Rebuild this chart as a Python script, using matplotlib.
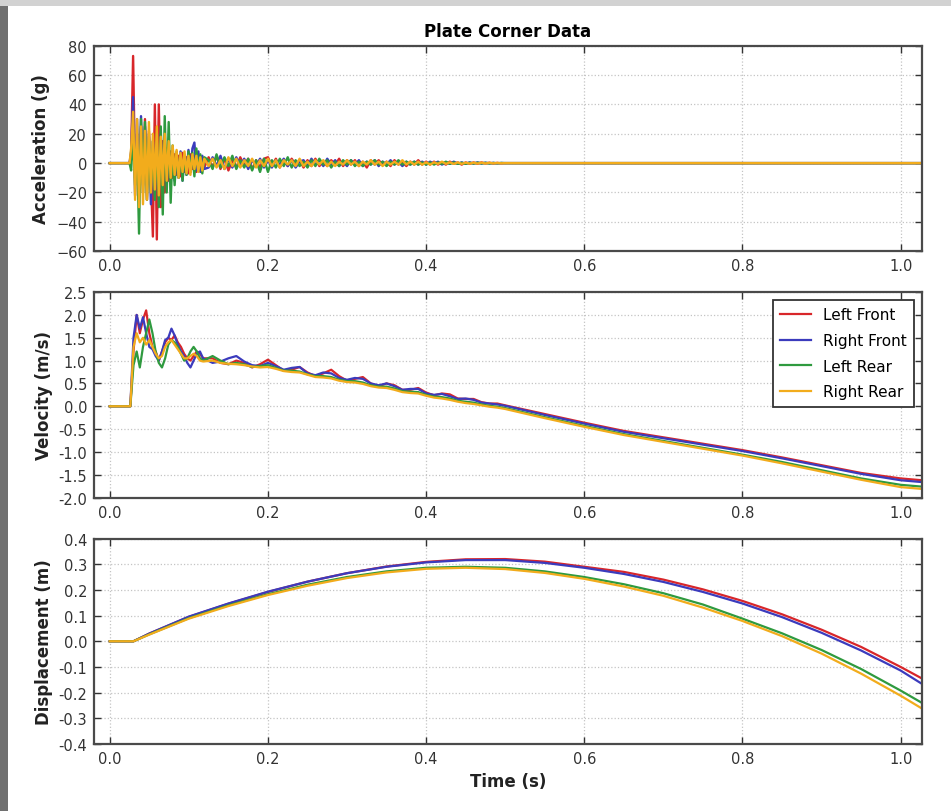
import numpy as np
import matplotlib
matplotlib.use('Agg')
import matplotlib.pyplot as plt
from matplotlib.patches import Rectangle

plt.rcParams['font.family'] = ['DejaVu Sans']

# Series names and colours
labels = ['Left Front', 'Right Front', 'Left Rear', 'Right Rear']
colors = ['#d8262a', '#3b3bbd', '#2f9a3f', '#f2ac1c']

# ---- Acceleration (g) ----
# time grid: flat start, fine part (step 0.0025), coarse part (step 0.005), flat tail
acc_t = np.concatenate([[0.0, 0.025],
                        np.round(0.027 + 0.0025 * np.arange(38), 4),
                        np.round(0.125 + 0.005 * np.arange(76), 4),
                        [0.53, 1.027]])

acc_lf_a = [5, 73, -10, 20, -20, 25, -15, 30, -25, 22, -10, -50, 40, -52, 40, -30, 15, -20, 10, -12,
            8, -10, 6, -8, 5, -9, 7, -6, 4, -7, 6, -4, 5, -6, 3, -5, 4, -3]
acc_rf_a = [8, 45, -22, 30, -18, 32, -20, 25, -15, 20, -28, 15, -22, 12, -18, 20, -12, 10, -15, 8,
            -10, 6, -12, 5, -10, 8, -12, 6, -8, 9, -6, 10, 14, -5, 8, -6, 5, -4]
acc_lr_a = [-5, 20, -15, 10, -48, 30, -20, 28, -25, 18, -20, 15, -25, 20, -30, 25, -35, 32, -20, 28,
            -27, 12, -15, 8, -10, 6, -12, 5, -8, 8, -6, 7, -9, 10, -5, 6, -7, 4]
acc_rr_a = [10, 35, -25, 30, -30, 25, -28, 22, -25, 28, -20, 20, -18, 25, -22, 18, -15, 20, -12, 15,
            -10, 12, -8, 9, -10, 7, -6, 8, -7, 5, -8, 6, -4, 5, -6, 4, -5, 3]

acc_lf_b = [4, -3, 5, -4, 3, -5, 2, -3, 4, -2, 3, -4, 2, -3, 3,
            4, -2, 3, -3, 2, -2, 3, -1, 2, -3, 2, -2, 3, -2, 1, -2, 2, -1, 3, -2,
            2, -1, 2, -2, 1, -3, 2, -1, 2, -1, 1, -2, 2, -1, 1, -2, 1, -1, 2, -1,
            1, -1, 1, -1, 0.5, -1, 1, -0.5, 0.5, -1, 0.5, -0.5, 0.5, -0.5, 0.5, -0.3, 0.3, -0.3, 0.2, -0.2, 0]
acc_rf_b = [-3, 4, -2, 5, -4, 3, -3, 4, -2, 3, -4, 2, -2, 3, -3,
            2, -3, 2, -1, 3, -2, 2, -3, 1, 2, -2, 3, -1, 2, -2, 3, -1, 2, -2, 1,
            -2, 2, -1, 2, -2, 1, -1, 2, -2, 1, -1, 2, -1, 1, -2, 1, -1, 1, -1, 1,
            -1, 1, -0.5, 1, -1, 0.5, -0.5, 1, -0.5, 0.5, -0.5, 0.5, -0.3, 0.5, -0.3, 0.3, -0.2, 0.2, -0.2, 0.1, 0]
acc_lr_b = [2, -4, 6, -3, 4, -2, 5, -4, 2, -3, 3, -5, 2, -6, 3,
            -6, 2, -3, 3, -2, 4, -3, 2, -2, 1, -3, 2, -2, 3, -1, 2, -3, 1, -2, 2,
            -1, 2, -2, 1, -2, 1, -1, 2, -1, 1, -2, 1, -1, 2, -1, 1, -1, 1, -1, 0.5,
            -1, 0.5, -1, 0.5, -0.5, 1, -0.5, 0.5, -0.5, 0.3, -0.5, 0.3, -0.3, 0.3, -0.2, 0.2, -0.2, 0.1, -0.1, 0.1, 0]
acc_rr_b = [-2, 3, -3, 2, -4, 4, -2, 3, -3, 2, -2, 3, -3, 2, -2,
            3, -2, 2, -3, 2, -1, 2, -2, 3, -2, 1, -2, 2, -1, 2, -2, 1, -2, 1, -1,
            2, -1, 1, -2, 1, -1, 2, -1, 1, -2, 1, -1, 1, -1, 2, -1, 1, -1, 1, -1,
            0.5, -1, 0.5, -0.5, 1, -0.5, 0.5, -0.5, 0.5, -0.5, 0.3, -0.3, 0.3, -0.3, 0.3, -0.2, 0.2, -0.1, 0.1, -0.1, 0]

acc = [[0, 0] + a + b + [0, 0] for a, b in [(acc_lf_a, acc_lf_b), (acc_rf_a, acc_rf_b),
                                            (acc_lr_a, acc_lr_b), (acc_rr_a, acc_rr_b)]]

# ---- Velocity (m/s) ----
vel_t = np.concatenate([[0.0, 0.026],
                        np.round(0.030 + 0.004 * np.arange(23), 3),
                        np.round(0.13 + 0.01 * np.arange(38), 2),
                        np.round(0.55 + 0.05 * np.arange(10), 2),
                        [1.027]])

vel_lf = [0, 0,
          1.2, 2.0, 1.6, 1.9, 2.1, 1.6, 1.3, 1.2, 1.0, 1.2, 1.4, 1.5, 1.45, 1.55, 1.4, 1.3, 1.15, 1.05, 1.0, 1.1, 1.2, 1.15, 1.05,
          1.05, 0.95, 0.92, 1.0, 0.95, 0.85, 0.92, 1.02, 0.90, 0.78, 0.80, 0.86, 0.74, 0.66, 0.72, 0.80, 0.66, 0.56, 0.60,
          0.64, 0.50, 0.44, 0.50, 0.46, 0.36, 0.36, 0.40, 0.30, 0.24, 0.28, 0.26, 0.17, 0.16, 0.16, 0.09, 0.06, 0.06, 0.02,
          -0.17, -0.36, -0.54, -0.68, -0.82, -0.96, -1.12, -1.29, -1.46, -1.58, -1.62]
vel_rf = [0, 0,
          1.5, 2.0, 1.7, 1.95, 1.6, 1.3, 1.25, 1.1, 1.0, 1.2, 1.45, 1.5, 1.7, 1.55, 1.35, 1.2, 1.1, 0.95, 0.85, 1.0, 1.15, 1.2, 1.05,
          0.95, 0.98, 1.05, 1.1, 0.98, 0.90, 0.88, 0.95, 0.88, 0.80, 0.84, 0.86, 0.72, 0.68, 0.74, 0.72, 0.62, 0.58, 0.62,
          0.60, 0.50, 0.46, 0.50, 0.44, 0.36, 0.38, 0.38, 0.28, 0.25, 0.27, 0.22, 0.16, 0.17, 0.14, 0.08, 0.06, 0.04, 0.01,
          -0.19, -0.38, -0.56, -0.70, -0.84, -0.98, -1.14, -1.31, -1.48, -1.62, -1.66]
vel_lr = [0, 0,
          0.9, 1.2, 0.85, 1.3, 1.6, 1.9, 1.6, 1.2, 0.95, 0.85, 1.05, 1.35, 1.45, 1.4, 1.3, 1.15, 1.0, 1.05, 1.2, 1.3, 1.2, 1.05, 1.0,
          1.1, 1.0, 0.92, 0.95, 0.92, 0.86, 0.88, 0.90, 0.84, 0.78, 0.78, 0.76, 0.70, 0.66, 0.66, 0.64, 0.58, 0.55, 0.55,
          0.52, 0.46, 0.43, 0.43, 0.39, 0.33, 0.32, 0.31, 0.25, 0.21, 0.20, 0.17, 0.12, 0.10, 0.08, 0.04, 0.01, -0.01, -0.04,
          -0.24, -0.43, -0.61, -0.76, -0.91, -1.06, -1.22, -1.40, -1.58, -1.72, -1.76]
vel_rr = [0, 0,
          1.3, 1.6, 1.4, 1.5, 1.35, 1.45, 1.3, 1.15, 1.05, 1.1, 1.3, 1.4, 1.45, 1.35, 1.25, 1.15, 1.05, 1.05, 1.1, 1.15, 1.1, 1.0, 0.98,
          1.0, 0.95, 0.93, 0.92, 0.90, 0.87, 0.85, 0.86, 0.82, 0.77, 0.75, 0.74, 0.69, 0.64, 0.63, 0.61, 0.56, 0.53, 0.52,
          0.49, 0.44, 0.41, 0.40, 0.36, 0.31, 0.29, 0.28, 0.23, 0.19, 0.17, 0.14, 0.10, 0.07, 0.05, 0.02, -0.01, -0.03, -0.06,
          -0.26, -0.45, -0.63, -0.78, -0.93, -1.08, -1.25, -1.43, -1.61, -1.77, -1.81]
vel = [vel_lf, vel_rf, vel_lr, vel_rr]

# ---- Displacement (m) ----
disp_t = [0.0, 0.03, 0.05, 0.10, 0.15, 0.20, 0.25, 0.30, 0.35, 0.40, 0.45, 0.50,
          0.55, 0.60, 0.65, 0.70, 0.75, 0.80, 0.85, 0.90, 0.95, 1.00, 1.027]
disp_lf = [0, 0, 0.030, 0.095, 0.146, 0.192, 0.232, 0.265, 0.291, 0.309, 0.319, 0.320,
           0.310, 0.290, 0.270, 0.240, 0.202, 0.157, 0.105, 0.045, -0.022, -0.100, -0.145]
disp_rf = [0, 0, 0.030, 0.096, 0.147, 0.193, 0.232, 0.265, 0.290, 0.307, 0.316, 0.316,
           0.305, 0.286, 0.262, 0.231, 0.192, 0.147, 0.094, 0.033, -0.036, -0.114, -0.166]
disp_lr = [0, 0, 0.027, 0.090, 0.140, 0.183, 0.220, 0.250, 0.272, 0.286, 0.290, 0.286,
           0.272, 0.250, 0.222, 0.187, 0.143, 0.088, 0.031, -0.034, -0.108, -0.192, -0.240]
disp_rr = [0, 0, 0.026, 0.088, 0.137, 0.180, 0.216, 0.246, 0.268, 0.282, 0.286, 0.281,
           0.266, 0.243, 0.213, 0.177, 0.131, 0.079, 0.020, -0.048, -0.126, -0.212, -0.262]
disp = [disp_lf, disp_rf, disp_lr, disp_rr]

x_ticks = [0.0, 0.2, 0.4, 0.6, 0.8, 1.0]


def style_axes(ax, yticks, ylabel):
    ax.set_xlim(-0.02, 1.027)
    ax.set_xticks(x_ticks)
    ax.set_xticklabels(['%.1f' % v for v in x_ticks])
    ax.set_yticks(yticks)
    ax.set_ylim(yticks[0], yticks[-1])
    ax.set_ylabel(ylabel, fontsize=12, fontweight='bold', color='#222222')
    ax.tick_params(direction='in', length=5, width=1, top=True, right=True,
                   labelsize=10.5, colors='#333333', pad=5)
    ax.grid(True, linestyle=':', color='#c4c4c4', linewidth=0.9)
    for sp in ax.spines.values():
        sp.set_color('#4a4a4a')
        sp.set_linewidth(1.6)


fig, axes = plt.subplots(3, 1, figsize=(9.51, 8.12), dpi=100)
fig.subplots_adjust(left=0.0988, right=0.9695, top=0.9425, bottom=0.0825, hspace=0.199)

for i in range(4):
    axes[0].plot(acc_t, acc[i], color=colors[i], linewidth=1.7)
    axes[1].plot(vel_t, vel[i], color=colors[i], linewidth=1.6, label=labels[i])
    axes[2].plot(disp_t, disp[i], color=colors[i], linewidth=1.6)

style_axes(axes[0], [-60, -40, -20, 0, 20, 40, 60, 80], 'Acceleration (g)')
style_axes(axes[1], [-2.0, -1.5, -1.0, -0.5, 0.0, 0.5, 1.0, 1.5, 2.0, 2.5], 'Velocity (m/s)')
style_axes(axes[2], [-0.4, -0.3, -0.2, -0.1, 0.0, 0.1, 0.2, 0.3, 0.4], 'Displacement (m)')
axes[1].set_yticklabels(['%.1f' % v for v in axes[1].get_yticks()])
axes[2].set_yticklabels(['%.1f' % v for v in axes[2].get_yticks()])

axes[0].set_title('Plate Corner Data', fontsize=12, fontweight='bold', pad=7)
axes[2].set_xlabel('Time (s)', fontsize=12, fontweight='bold', color='#222222')

leg = axes[1].legend(loc='upper right', fontsize=11, fancybox=False, framealpha=1,
                     edgecolor='#333333', borderpad=0.5, handlelength=2.0, labelspacing=0.7)
leg.get_frame().set_linewidth(1.3)

# grey frame of the photographed slide
fig.patches.append(Rectangle((0, 0), 8 / 951, 1, transform=fig.transFigure,
                             facecolor='#707070', edgecolor='none', zorder=10))
fig.patches.append(Rectangle((0, 1 - 7 / 812), 1, 7 / 812, transform=fig.transFigure,
                             facecolor='#d2d2d2', edgecolor='none', zorder=10))

fig.savefig('out.png', dpi=100)
